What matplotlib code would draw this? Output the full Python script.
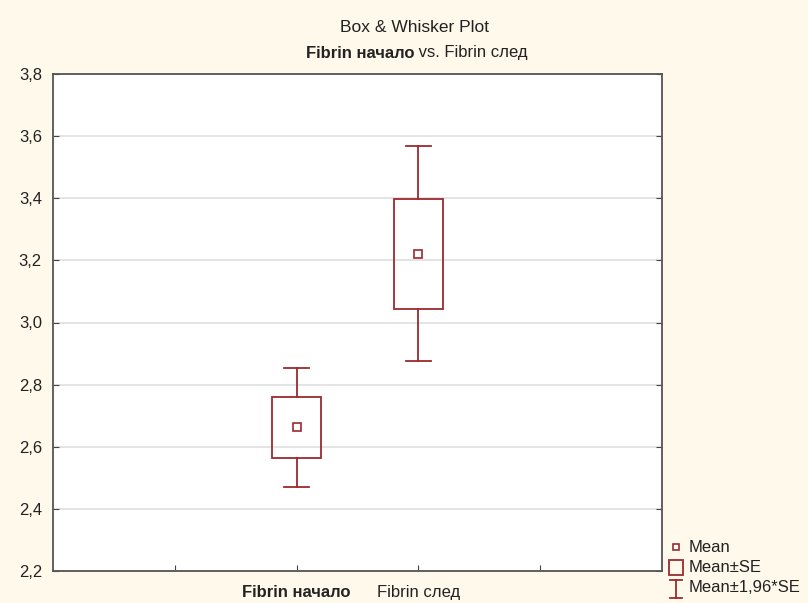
import matplotlib.pyplot as plt
from matplotlib.lines import Line2D
from matplotlib.patches import Rectangle

plt.rcParams['font.family'] = ['Liberation Sans', 'DejaVu Sans']

groups = ['Fibrin начало', 'Fibrin след']
means = [2.663, 3.222]
se = [0.098, 0.177]
positions = [2, 3]

red = '#9B2A2E'
bg = '#FFF9EC'
txt = '#222222'

fig = plt.figure(figsize=(8.08, 6.03), dpi=100, facecolor=bg)
ax = fig.add_axes([53 / 808, 32 / 603, 609 / 808, 497 / 603])
ax.set_facecolor('white')

for x, m, s in zip(positions, means, se):
    # Mean±SE box
    ax.add_patch(Rectangle((x - 0.2, m - s), 0.4, 2 * s, fill=False,
                           edgecolor=red, linewidth=1.3, zorder=3))
    # Mean±1,96*SE whiskers
    lo, hi = m - 1.96 * s, m + 1.96 * s
    ax.plot([x, x], [m + s, hi], color=red, lw=1.3, zorder=3)
    ax.plot([x, x], [lo, m - s], color=red, lw=1.3, zorder=3)
    ax.plot([x - 0.1, x + 0.1], [hi, hi], color=red, lw=1.3, zorder=3)
    ax.plot([x - 0.1, x + 0.1], [lo, lo], color=red, lw=1.3, zorder=3)
    # Mean
    ax.plot([x], [m], marker='s', ms=6, mfc='white', mec=red, mew=1.2, zorder=4)

ax.set_xlim(0, 5)
ax.set_ylim(2.2, 3.8)
yt = [2.2, 2.4, 2.6, 2.8, 3.0, 3.2, 3.4, 3.6, 3.8]
ax.set_yticks(yt)
ax.set_yticklabels([f'{v:.1f}'.replace('.', ',') for v in yt], fontsize=12, color=txt)
ax.set_xticks([1, 2, 3, 4])
ax.set_xticklabels(['', groups[0], groups[1], ''], fontsize=12, color=txt)
ax.get_xticklabels()[1].set_fontweight('bold')
ax.tick_params(axis='y', direction='in', length=4, color='#444444', right=True, pad=8)
ax.tick_params(axis='x', direction='in', length=4, color='#444444', pad=10)
ax.yaxis.grid(True, color='#DFDFDF', lw=1.2)
ax.set_axisbelow(True)
for sp in ax.spines.values():
    sp.set_color('#555555')
    sp.set_linewidth(1.3)

fig.text(415 / 808, 1 - 28 / 603, 'Box & Whisker Plot', ha='center', va='center',
         fontsize=12.5, color=txt)
fig.text(414 / 808, 1 - 53 / 603, 'Fibrin начало', ha='right', va='center',
         fontsize=12, fontweight='bold', color=txt)
fig.text(414 / 808, 1 - 53 / 603, ' vs. Fibrin след', ha='left', va='center',
         fontsize=12, color=txt)

# legend
lg = fig.add_axes([0, 0, 1, 1], facecolor='none')
lg.set_xlim(0, 808)
lg.set_ylim(603, 0)
lg.axis('off')
lg.plot([676], [547], marker='s', ms=5, mfc='white', mec=red, mew=1.2)
lg.add_patch(Rectangle((669, 560), 14, 15, fill=False, edgecolor=red, lw=1.3))
lg.plot([676, 676], [580, 598], color=red, lw=1.3)
lg.plot([670, 682], [580, 580], color=red, lw=1.3)
lg.plot([670, 682], [598, 598], color=red, lw=1.3)
for y, t in zip([547, 567, 588], ['Mean', 'Mean±SE', 'Mean±1,96*SE']):
    lg.text(689, y, t, va='center', ha='left', fontsize=12, color=txt)

fig.savefig('out.png', dpi=100, facecolor=bg)
